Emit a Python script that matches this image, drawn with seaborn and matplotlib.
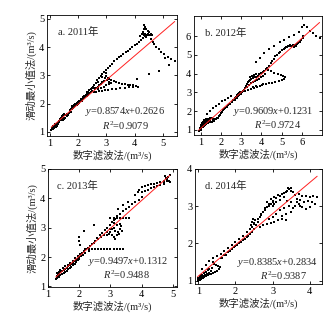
import matplotlib
matplotlib.use("Agg")
import matplotlib.pyplot as plt
import seaborn as sns
import pandas as pd
import numpy as np

sns.set_theme(style="ticks")
plt.rcParams['font.family'] = ['Liberation Serif', 'Noto Sans CJK SC']
plt.rcParams['mathtext.fontset'] = 'custom'
plt.rcParams['mathtext.rm'] = 'Liberation Serif'
plt.rcParams['mathtext.it'] = 'Liberation Serif:italic'

# ---------------- data ----------------
panel_labels = ["a. 2011年", "b. 2012年", "c. 2013年", "d. 2014年"]
slopes = [0.8574, 0.9609, 0.9497, 0.8385]
intercepts = [0.2626, 0.1231, 0.1312, 0.2834]
r2_values = [0.9079, 0.9724, 0.9488, 0.9387]
x_label = "数字滤波法/(m³/s)"
y_label = "滑动最小值法/(m³/s)"

pts_2011 = [
    (1.05,1.08),(1.07,1.12),(1.1,1.1),(1.12,1.16),(1.15,1.14),(1.17,1.2),(1.2,1.22),(1.22,1.18),
    (1.25,1.26),(1.28,1.32),(1.3,1.28),(1.33,1.38),(1.36,1.44),(1.4,1.5),(1.43,1.56),(1.46,1.6),
    (1.5,1.63),(1.53,1.58),(1.48,1.5),(1.45,1.42),(1.5,1.45),(1.55,1.5),(1.6,1.55),(1.65,1.6),
    (1.68,1.66),(1.72,1.72),(1.75,1.8),(1.78,1.88),(1.8,1.92),(1.84,1.95),(1.88,1.97),(1.92,2.0),
    (1.96,2.02),(2.0,2.05),(1.82,1.85),(1.86,1.88),(1.9,1.92),(1.95,1.95),(2.0,1.98),(2.04,2.02),
    (2.08,2.08),(2.12,2.12),(2.16,2.16),(2.2,2.2),(2.24,2.26),(2.28,2.3),(2.32,2.36),(2.36,2.42),
    (2.4,2.48),(2.44,2.52),(2.48,2.56),(2.52,2.6),(2.25,2.22),(2.3,2.27),(2.35,2.3),(2.4,2.36),
    (2.45,2.4),(2.5,2.44),(2.56,2.55),(2.6,2.5),(2.2,2.28),(2.3,2.4),
    (1.12,1.2),(1.18,1.26),(1.24,1.22),(1.32,1.34),(1.38,1.4),(1.42,1.46),(1.58,1.6),(1.62,1.64),
    (1.7,1.76),(1.74,1.7),(1.78,1.82),(1.98,2.06),(2.02,2.1),(2.1,2.16),(2.18,2.24),(2.14,2.08),
    (2.56,2.66),(2.62,2.74),(2.68,2.82),(2.74,2.9),(2.8,2.98),(2.86,3.06),(2.92,3.12),(2.98,3.2),
    (3.05,3.27),(3.12,3.34),(3.2,3.42),(3.28,3.5),(3.36,3.57),(3.44,3.64),(3.52,3.7),(3.6,3.76),
    (3.68,3.82),(3.76,3.88),(3.84,3.94),(3.92,4.0),(4.0,4.06),(4.08,4.12),(4.16,4.18),(4.22,4.25),
    (4.28,4.32),(2.7,2.76),(2.85,2.94),(3.0,3.1),
    (4.2,4.38),(4.25,4.45),(4.3,4.55),(4.32,4.65),(4.34,4.78),(4.38,4.72),(4.42,4.64),(4.47,4.58),
    (4.52,4.52),(4.57,4.48),(4.62,4.44),(4.32,4.42),(4.38,4.45),(4.44,4.42),(4.5,4.44),(4.56,4.42),
    (4.28,4.48),(4.36,4.38),(4.46,4.48),(4.4,4.36),
    (4.58,4.3),(4.64,4.2),(4.7,4.1),(4.77,4.0),(4.85,3.92),(4.95,3.84),(5.05,3.76),(5.18,3.66),
    (5.3,3.58),(5.42,3.52),(5.08,3.62),(5.2,3.36),(4.85,3.16),(4.5,3.04),(4.08,2.88),
    (2.9,2.8),(2.95,2.9),(3.0,2.97),(3.05,2.92),(3.1,2.87),(3.18,2.83),(3.26,2.79),(3.35,2.75),
    (3.45,2.72),(3.55,2.7),(3.65,2.68),(3.75,2.67),(3.85,2.66),(3.95,2.65),(4.05,2.63),(4.12,2.6),
    (3.02,2.85),(3.08,2.78),(3.15,2.72),
    (2.55,2.4),(2.65,2.42),(2.75,2.44),(2.85,2.45),(2.95,2.47),(3.05,2.48),(3.2,2.5),(3.35,2.52),
    (3.5,2.54),(3.65,2.56),(3.8,2.58),(3.95,2.6),
    (2.65,2.55),(2.7,2.6),(2.75,2.65),(2.8,2.7),(2.85,2.75),(2.7,2.5),(2.8,2.55),(2.9,2.6),
    (3.0,2.65),(3.1,2.7),
]

pts_2012 = [
    (0.9,0.92),(0.95,0.98),(1.0,1.02),(1.03,1.08),(1.06,1.14),(1.08,1.2),(1.1,1.28),(1.12,1.35),
    (1.15,1.42),(1.2,1.48),(1.25,1.52),(1.3,1.55),(1.35,1.57),(1.4,1.6),(1.45,1.62),(1.5,1.63),
    (1.55,1.62),(1.6,1.6),(1.65,1.58),(1.7,1.57),(1.75,1.6),(1.8,1.62),(1.1,1.15),(1.15,1.2),
    (1.2,1.25),(1.25,1.3),(1.3,1.35),(1.35,1.38),(1.4,1.4),(1.45,1.42),(1.5,1.44),(1.55,1.45),
    (1.6,1.48),(1.65,1.5),(1.0,1.25),(1.05,1.35),(1.1,1.45),(1.18,1.52),(1.25,1.6),(1.2,1.4),
    (1.3,1.45),(1.4,1.5),(0.98,1.12),(1.02,1.18),(1.15,1.3),(1.22,1.36),(1.35,1.48),(1.45,1.55),
    (1.85,1.65),(1.9,1.72),(1.95,1.8),(2.0,1.88),(2.05,1.97),(2.1,2.05),(2.15,2.12),(2.2,2.18),
    (2.28,2.25),(2.36,2.32),(2.45,2.4),(2.55,2.5),(2.62,2.6),(2.7,2.7),(2.75,2.78),(2.8,2.85),
    (2.85,2.9),(2.9,2.95),(2.95,3.0),(3.0,3.02),(2.78,2.72),(2.85,2.8),(2.92,2.88),(3.0,2.92),
    (3.05,3.0),(2.7,2.62),(3.1,3.08),
    (1.3,1.85),(1.45,2.0),(1.6,2.15),(1.75,2.28),(1.9,2.4),(2.05,2.52),(2.2,2.62),(2.35,2.72),
    (2.5,2.82),
    (3.15,3.15),(3.2,3.25),(3.25,3.35),(3.3,3.45),(3.35,3.55),(3.4,3.62),(3.45,3.68),(3.5,3.72),
    (3.58,3.76),(3.66,3.8),(3.74,3.85),(3.82,3.9),(3.9,3.96),(3.98,4.02),(4.06,4.08),(4.14,4.16),
    (4.22,4.24),(4.3,4.32),(3.3,3.3),(3.4,3.4),(3.5,3.5),(3.6,3.55),(3.7,3.6),(3.8,3.65),
    (3.9,3.72),(4.0,3.8),(4.1,3.9),(4.2,4.0),(3.45,3.85),(3.55,3.9),(3.65,3.95),(3.75,4.0),
    (3.2,3.1),(3.35,3.15),(3.5,3.18),(3.65,3.22),(3.8,3.28),(3.95,3.35),(4.05,3.42),(3.6,3.3),
    (3.75,3.35),
    (4.35,4.18),(4.5,4.12),(4.65,4.06),(4.8,4.0),(4.95,3.94),(5.08,3.88),(5.18,3.8),(5.12,3.7),
    (5.0,3.64),(4.85,3.6),(4.7,3.56),(4.55,3.52),(4.4,3.48),(4.25,3.46),(4.1,3.44),
    (4.38,4.42),(4.46,4.55),(4.54,4.68),(4.62,4.8),(4.7,4.92),(4.78,5.02),(4.86,5.1),(4.94,5.18),
    (5.02,5.25),(5.1,5.32),(5.18,5.38),(5.26,5.42),(5.34,5.46),(5.42,5.48),(5.5,5.5),(5.58,5.52),
    (5.66,5.55),(5.74,5.6),(5.82,5.65),(5.9,5.7),(5.98,5.78),(6.04,5.88),(6.08,6.0),(5.2,5.45),
    (5.3,5.5),(5.4,5.52),(5.6,5.45),(5.7,5.5),
    (3.75,4.6),(3.95,4.85),(4.15,5.1),(4.4,5.3),(4.65,5.5),(4.9,5.7),(5.1,5.8),(5.35,5.95),
    (5.6,6.05),(5.85,6.25),(6.0,6.5),(6.12,6.62),(6.25,6.48),(6.4,6.3),(6.55,6.15),(6.7,6.02),
    (6.88,5.9),
]

pts_2013 = [
    (1.25,1.25),(1.28,1.3),(1.3,1.35),(1.33,1.4),(1.36,1.45),(1.4,1.5),(1.45,1.52),(1.5,1.55),
    (1.55,1.6),(1.6,1.62),(1.65,1.68),(1.7,1.72),(1.75,1.76),(1.8,1.8),(1.85,1.85),(1.9,1.9),
    (1.95,1.95),(2.0,2.0),(1.3,1.28),(1.35,1.32),(1.4,1.38),(1.45,1.42),(1.5,1.46),(1.55,1.5),
    (1.6,1.54),(1.65,1.58),(1.7,1.62),(1.75,1.66),(1.8,1.72),(1.85,1.78),(1.9,1.84),(1.95,1.9),
    (2.0,1.95),(1.3,1.45),(1.35,1.5),(1.4,1.55),(1.48,1.62),(1.56,1.68),(1.64,1.74),(1.72,1.8),
    (1.8,1.88),(1.88,1.96),(1.96,2.04),(2.04,2.1),(2.1,2.14),(2.16,2.2),(2.22,2.26),(2.28,2.32),
    (2.34,2.38),(2.4,2.44),(2.46,2.48),(2.05,2.02),(2.12,2.08),(2.2,2.15),(2.3,2.22),
    (2.2,2.28),(2.3,2.28),(2.4,2.28),(2.5,2.28),(2.6,2.28),(2.7,2.28),(2.8,2.27),(2.9,2.27),
    (3.0,2.27),(3.1,2.27),(3.2,2.27),(3.3,2.27),(3.4,2.27),
    (1.99,2.68),(2.04,2.4),(2.15,2.9),(2.47,3.08),(2.0,2.55),
    (2.5,2.55),(2.58,2.65),(2.66,2.74),(2.74,2.82),(2.82,2.92),(2.9,3.0),(2.98,3.1),(3.06,3.2),
    (3.14,3.3),(3.22,3.4),(3.3,3.48),(3.4,3.56),(3.5,3.64),(3.6,3.72),(3.7,3.8),(3.8,3.88),
    (3.9,3.96),(4.0,4.04),(2.6,2.6),(2.7,2.68),(2.8,2.76),(2.9,2.84),(3.0,2.95),
    (3.25,3.65),(3.4,3.76),(3.56,3.88),(3.77,4.11),(3.88,4.22),
    (3.9,4.3),(4.0,4.38),(4.1,4.42),(4.2,4.45),(4.3,4.48),(4.4,4.5),(4.5,4.52),(4.6,4.55),
    (4.7,4.6),(4.0,4.2),(4.1,4.25),(4.2,4.3),(4.3,4.35),(4.4,4.38),(4.5,4.42),(4.6,4.46),
    (4.7,4.5),(4.8,4.6),(4.75,4.75),(4.78,4.7),(4.82,4.65),(4.86,4.6),(4.9,4.55),(4.8,4.68),
    (4.85,4.72),(4.9,4.78),(4.72,4.55),
    (3.0,3.33),(3.1,3.33),(3.2,3.33),(3.3,3.33),(3.4,3.33),(3.5,3.33),(3.6,3.33),
    (3.0,2.85),(3.05,2.75),(3.1,2.7),(3.15,2.62),(3.2,2.75),(3.25,2.85),(3.3,2.95),(3.35,3.05),
    (3.3,3.12),(3.2,3.08),(3.12,3.0),(3.1,3.15),(3.12,3.25),(3.15,2.9),(3.05,2.95),(2.95,2.8),
    (2.9,2.75),(3.38,2.9),(3.28,2.78),
]

pts_2014 = [
    (0.98,1.0),(1.0,1.03),(1.02,1.06),(1.04,1.02),(1.06,1.08),(1.08,1.05),(1.1,1.1),(1.12,1.07),
    (1.14,1.12),(1.16,1.1),(1.18,1.15),(1.2,1.12),(1.22,1.18),(1.25,1.15),(1.28,1.2),(1.3,1.17),
    (1.05,1.12),(1.1,1.16),(1.15,1.2),(1.2,1.24),(1.25,1.28),(1.3,1.3),(1.0,1.08),(1.08,1.14),
    (1.35,1.18),(1.4,1.2),(1.45,1.23),(1.5,1.27),(1.55,1.32),(1.58,1.36),(1.54,1.4),(1.48,1.43),
    (1.43,1.46),(1.4,1.5),(1.38,1.35),(1.33,1.25),
    (1.1,1.3),(1.2,1.42),(1.3,1.52),(1.4,1.6),(1.5,1.66),(1.6,1.72),(1.7,1.8),(1.8,1.88),
    (1.9,1.96),(2.0,2.04),(2.1,2.12),(2.2,2.2),(2.3,2.3),(2.4,2.4),(2.5,2.52),(2.6,2.66),
    (2.7,2.8),(2.8,2.95),(2.9,3.05),(3.0,3.15),(3.1,3.22),(3.2,3.28),(3.3,3.35),(3.4,3.42),
    (3.5,3.5),
    (1.6,1.6),(1.7,1.68),(1.8,1.76),(1.9,1.84),(2.0,1.92),(2.1,2.0),(2.2,2.08),(2.3,2.16),
    (2.4,2.26),(2.5,2.38),(2.55,2.5),(2.6,2.58),(2.65,2.7),(2.7,2.76),(2.75,2.85),(2.8,2.9),
    (2.85,2.98),(2.9,3.0),(2.95,3.05),(3.0,3.1),(1.65,1.62),(1.75,1.7),(1.85,1.8),(1.95,1.9),
    (2.05,1.95),(2.15,2.05),(2.25,2.12),(2.35,2.2),(2.45,2.3),
    (2.45,2.45),(2.5,2.55),(2.52,2.62),(2.48,2.65),(2.44,2.58),(2.42,2.5),
    (2.85,3.1),(2.95,3.2),(3.05,3.25),(3.15,3.3),(3.25,3.32),(3.35,3.38),(3.45,3.45),(3.42,3.5),
    (3.5,3.42),(3.55,3.38),(3.3,3.25),(3.2,3.18),(3.1,3.1),(3.0,3.0),(3.05,3.05),
    (3.6,3.3),(3.7,3.32),(3.8,3.28),(3.9,3.28),(4.0,3.26),(4.1,3.27),(4.2,3.25),(3.65,3.2),
    (3.75,3.18),(3.85,3.12),(3.95,3.15),(4.05,3.12),(3.7,3.05),(3.8,2.98),(3.9,2.92),(4.0,2.98),
    (3.6,3.0),(3.5,3.1),(3.4,3.15),(3.45,3.0),(3.3,2.95),(3.2,2.9),(3.35,2.8),(3.25,2.75),
    (3.5,2.85),(3.1,2.8),(3.55,2.95),(3.65,3.1),(3.75,3.0),(4.15,3.05),
    (2.65,2.45),(2.75,2.5),(2.85,2.52),(2.95,2.55),(3.05,2.58),(3.15,2.62),(3.25,2.66),(3.35,2.62),
    (3.0,2.7),(2.9,2.65),
]

all_pts = [pts_2011, pts_2012, pts_2013, pts_2014]
x_limits = [(0.9, 5.5), (0.67, 7.0), (1.0, 5.13), (0.91, 4.33)]
y_limits = [(0.85, 5.14), (0.73, 7.08), (0.98, 5.0), (0.91, 4.0)]
x_ticks = [[1, 2, 3, 4, 5], [1, 2, 3, 4, 5, 6], [1, 2, 3, 4, 5], [1, 2, 3, 4]]
y_ticks = [[1, 2, 3, 4, 5], [1, 2, 3, 4, 5, 6], [1, 2, 3, 4, 5], [1, 2, 3, 4]]

# ---------------- layout ----------------
W, H = 332, 326
fig = plt.figure(figsize=(W / 100, H / 100), dpi=100)
boxes = [(47, 15, 177, 136), (194, 16, 322, 135), (48, 169, 177, 287), (195, 169, 322, 284)]
label_pos = [(0.085, 0.86), (0.086, 0.86), (0.072, 0.86), (0.08, 0.855)]
eq_pos = [(0.6, 0.2, 0.6, 0.085), (0.62, 0.2, 0.65, 0.085), (0.62, 0.215, 0.61, 0.1), (0.65, 0.19, 0.7, 0.075)]

FS = 7.5
for i, (l, t, r, b) in enumerate(boxes):
    ax = fig.add_axes([l / W, 1 - b / H, (r - l) / W, (b - t) / H])
    df = pd.DataFrame(all_pts[i], columns=["x", "y"])
    sns.scatterplot(data=df, x="x", y="y", ax=ax, marker="s", s=3.0, color="black",
                    linewidth=0, legend=False)
    xs = np.array([df["x"].min(), df["x"].max()])
    line_df = pd.DataFrame({"x": xs, "y": slopes[i] * xs + intercepts[i]})
    sns.lineplot(data=line_df, x="x", y="y", ax=ax, color="#ff2020", linewidth=0.7)
    ax.set_xlim(*x_limits[i])
    ax.set_ylim(*y_limits[i])
    ax.set_xticks(x_ticks[i])
    ax.set_yticks(y_ticks[i])
    ax.tick_params(direction="in", top=True, right=True, length=2.5, width=0.6,
                   labelsize=FS, pad=2, colors="black")
    for sp in ax.spines.values():
        sp.set_linewidth(0.6)
        sp.set_color("black")
    ax.set_xlabel(x_label, fontsize=FS, labelpad=1.5)
    if i % 2 == 0:
        ax.set_ylabel(y_label, fontsize=FS, labelpad=2)
    else:
        ax.set_ylabel("")
    lx, ly = label_pos[i]
    ax.text(lx, ly, panel_labels[i], transform=ax.transAxes, fontsize=FS, ha="left", va="center")
    ex, ey, rx, ry = eq_pos[i]
    ax.text(ex, ey, "$y$=%.4f$x$+%.4f" % (slopes[i], intercepts[i]), transform=ax.transAxes,
            fontsize=FS, ha="center", va="center")
    ax.text(rx, ry, "$R^2$=%.4f" % r2_values[i], transform=ax.transAxes,
            fontsize=FS, ha="center", va="center")

fig.savefig("out.png", dpi=100, facecolor="white")
